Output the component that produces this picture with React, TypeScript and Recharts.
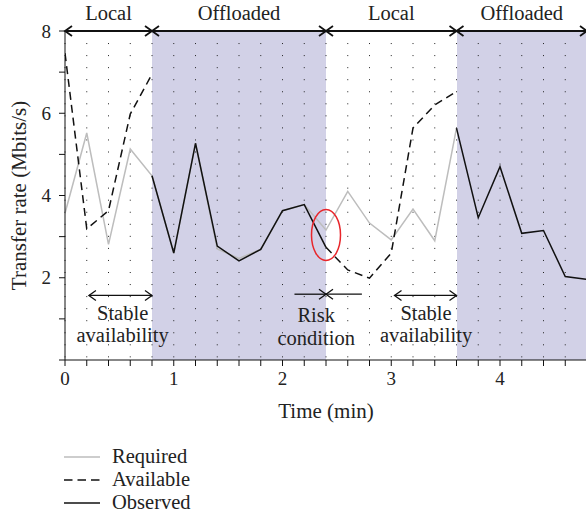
import React from 'react';
import {
  CartesianGrid,
  Line,
  LineChart,
  ReferenceDot,
  ReferenceLine,
  XAxis,
  YAxis,
} from 'recharts';

const FONT = '"Liberation Serif", "Times New Roman", serif';

// time (min), one sample every 0.2 min
const times = [0, 0.2, 0.4, 0.6, 0.8, 1, 1.2, 1.4, 1.6, 1.8, 2, 2.2, 2.4, 2.6, 2.8, 3, 3.2, 3.4, 3.6, 3.8, 4, 4.2, 4.4, 4.6, 4.8];

const required = [3.57, 5.52, 2.81, 5.13, 4.48, 2.6, 5.27, 2.7, 2.47, 2.69, 3.63, 3.78, 3.16, 4.1, 3.33, 2.92, 3.67, 2.9, 5.64, null, null, null, null, null, null];
const available = [7.46, 3.19, 3.63, 5.98, 6.95, null, null, null, null, null, null, null, 2.74, 2.19, 1.99, 2.6, 5.64, 6.2, 6.53, null, null, null, null, null, null];
const observed = [null, null, null, null, 4.48, 2.6, 5.27, 2.77, 2.41, 2.69, 3.63, 3.78, 2.74, null, null, null, null, null, 5.64, 3.46, 4.7, 3.08, 3.15, 2.03, 1.96];

const xTicks = times;
const yTicks = [0, 1, 2, 3, 4, 5, 6, 7, 8];

const phaseNames = ['Local', 'Offloaded', 'Local', 'Offloaded'];
const phaseBounds = [0, 0.8, 2.4, 3.6, 4.8];
const offloaded = [
  [0.8, 2.4],
  [3.6, 4.8],
];

// annotation arrows
const notes = [
  { from: 0.22, to: 0.8, y: 1.57, heads: 'both' },
  { from: 3.03, to: 3.6, y: 1.57, heads: 'both' },
  { from: 2.11, to: 2.4, y: 1.6, heads: 'end' },
  { from: 2.4, to: 2.73, y: 1.6, heads: 'start' },
];
const noteTexts = [
  { x: 0.53, y: 1.14, text: 'Stable' },
  { x: 0.53, y: 0.6, text: 'availability' },
  { x: 3.32, y: 1.14, text: 'Stable' },
  { x: 3.32, y: 0.6, text: 'availability' },
  { x: 2.31, y: 1.09, text: 'Risk' },
  { x: 2.31, y: 0.53, text: 'condition' },
];

const data = times.map((t, i) => ({
  t,
  required: required[i],
  available: available[i],
  observed: observed[i],
}));

// one fill per 0.2-min stripe between grid lines, so the dots stay on top
const stripeFills = times.slice(0, -1).map((t) =>
  offloaded.some(([a, b]) => t + 0.1 > a && t + 0.1 < b) ? '#d2d1e7' : '#ffffff'
);

const head = (x: number, y: number, dir: number, sw: number) => (
  <polyline
    points={`${x - dir * 7},${y - 5} ${x},${y} ${x - dir * 7},${y + 5}`}
    fill="none"
    stroke="#111"
    strokeWidth={sw}
  />
);

const arrowShape = (heads: string, sw: number, label?: string) => (p: any) => {
  const { x1, y1, x2, y2 } = p;
  return (
    <g>
      <line x1={x1} y1={y1} x2={x2} y2={y2} stroke="#111" strokeWidth={sw} />
      {(heads === 'both' || heads === 'start') && head(x1, y1, -1, sw)}
      {(heads === 'both' || heads === 'end') && head(x2, y2, 1, sw)}
      {label && (
        <text x={(x1 + x2) / 2} y={y1 - 11} textAnchor="middle" fontFamily={FONT} fontSize={20.5} fill="#222">
          {label}
        </text>
      )}
    </g>
  );
};

const legendItems = [
  { name: 'Required', color: '#bdbdbd', dash: undefined },
  { name: 'Available', color: '#111', dash: '8.5 5' },
  { name: 'Observed', color: '#111', dash: undefined },
];

export default function App() {
  return (
    <div style={{ position: 'absolute', left: 0, top: 0, width: 586, height: 520, overflow: 'hidden', background: '#fff' }}>
      <LineChart width={600} height={430} data={data} margin={{ top: 31, right: 13, left: 0, bottom: 10 }}>
        <CartesianGrid
          vertical
          horizontal={false}
          stroke="#222"
          strokeDasharray="1 11.05"
          verticalFill={stripeFills}
          fillOpacity={1}
        />
        <XAxis
          dataKey="t"
          type="number"
          domain={[0, 4.8]}
          ticks={xTicks}
          allowDataOverflow
          tickFormatter={(v) => (Number.isInteger(v) ? String(v) : '')}
          stroke="#111"
          tickSize={6}
          tickMargin={6}
          height={60}
          tick={{ fontSize: 19, fill: '#222', fontFamily: FONT }}
          label={{ value: 'Time (min)', position: 'insideBottom', offset: 2, fontSize: 21, fill: '#222', fontFamily: FONT }}
        />
        <YAxis
          type="number"
          domain={[0, 8]}
          ticks={yTicks}
          width={65}
          stroke="#111"
          tickSize={6}
          tickMargin={8}
          tickFormatter={(v) => (v !== 0 && v % 2 === 0 ? String(v) : '')}
          tick={{ fontSize: 19, fill: '#222', fontFamily: FONT }}
          label={{
            content: ({ viewBox }: any) => (
              <text
                x={19}
                y={viewBox.y + viewBox.height / 2}
                transform={`rotate(-90, 19, ${viewBox.y + viewBox.height / 2})`}
                textAnchor="middle"
                dominantBaseline="central"
                fontFamily={FONT}
                fontSize={21}
                fill="#222"
              >
                Transfer rate (Mbits/s)
              </text>
            ),
          }}
        />
        <Line dataKey="required" stroke="#bdbdbd" strokeWidth={1.5} dot={false} isAnimationActive={false} />
        <Line dataKey="available" stroke="#111" strokeWidth={1.5} strokeDasharray="8 5" dot={false} isAnimationActive={false} />
        <Line dataKey="observed" stroke="#111" strokeWidth={1.5} dot={false} isAnimationActive={false} />
        {phaseNames.map((name, i) => (
          <ReferenceLine
            key={'p' + i}
            segment={[
              { x: phaseBounds[i], y: 8 },
              { x: phaseBounds[i + 1], y: 8 },
            ]}
            shape={arrowShape('both', 1.8, name)}
          />
        ))}
        {notes.map((n, i) => (
          <ReferenceLine
            key={'n' + i}
            segment={[
              { x: n.from, y: n.y },
              { x: n.to, y: n.y },
            ]}
            shape={arrowShape(n.heads, 1.3)}
          />
        ))}
        {noteTexts.map((n, i) => (
          <ReferenceDot
            key={'t' + i}
            x={n.x}
            y={n.y}
            shape={(p: any) => (
              <text x={p.cx} y={p.cy} textAnchor="middle" dominantBaseline="central" fontFamily={FONT} fontSize={20.5} fill="#222">
                {n.text}
              </text>
            )}
          />
        ))}
        <ReferenceDot
          x={2.4}
          y={3.04}
          shape={(p: any) => <ellipse cx={p.cx} cy={p.cy} rx={14.5} ry={25.5} fill="none" stroke="#e8262b" strokeWidth={1.5} />}
        />
      </LineChart>
      <div style={{ position: 'absolute', left: 64, top: 445, fontFamily: FONT, fontSize: 20.5, color: '#222' }}>
        {legendItems.map((it) => (
          <div key={it.name} style={{ display: 'flex', alignItems: 'center', height: 23 }}>
            <svg width={36} height={4} style={{ marginRight: 12 }}>
              <line x1={0} y1={2} x2={36} y2={2} stroke={it.color} strokeWidth={1.5} strokeDasharray={it.dash} />
            </svg>
            {it.name}
          </div>
        ))}
      </div>
    </div>
  );
}
